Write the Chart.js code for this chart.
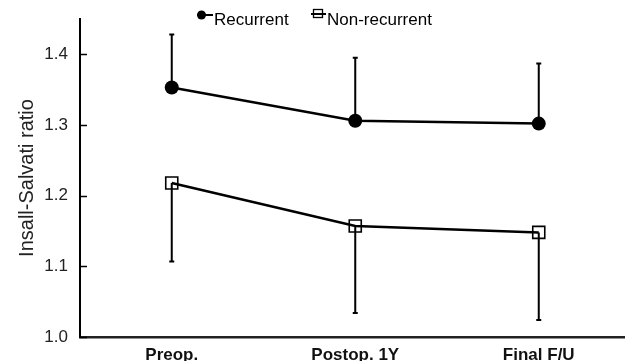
<!DOCTYPE html>
<html>
<head>
<meta charset="utf-8">
<script src="https://cdn.jsdelivr.net/npm/chart.js@4.4.0/dist/chart.umd.min.js"></script>
<style>
  html, body { margin: 0; padding: 0; background: #fff; }
  #wrap { width: 625px; height: 361px; }
</style>
</head>
<body>
<div id="wrap"><canvas id="myChart" width="625" height="361"></canvas></div>
<script>
  // values
  const labels = ['Preop.', 'Postop. 1Y', 'Final F/U'];
  const recurrent = [1.353, 1.306, 1.302];
  const recurrentUpper = [1.428, 1.395, 1.387];
  const nonRecurrent = [1.218, 1.157, 1.148];
  const nonRecurrentLower = [1.107, 1.034, 1.024];
  const yTicks = [1.0, 1.1, 1.2, 1.3, 1.4];

  const FONT = "'Liberation Sans', Arial, sans-serif";

  function toPoints(values) {
    const pts = [];
    for (let i = 0; i < values.length; i++) {
      pts.push({ x: i + 1, y: values[i] });
    }
    return pts;
  }

  // one sided error bars, drawn under the markers
  const errorBars = {
    id: 'errorBars',
    beforeDatasetsDraw(chart) {
      const ctx = chart.ctx;
      const x = chart.scales.x;
      const y = chart.scales.y;
      const sets = [[recurrent, recurrentUpper], [nonRecurrent, nonRecurrentLower]];
      ctx.save();
      ctx.strokeStyle = '#000';
      ctx.lineWidth = 2;
      sets.forEach(function(s) {
        for (let i = 0; i < s[0].length; i++) {
          const px = x.getPixelForValue(i + 1);
          const y0 = y.getPixelForValue(s[0][i]);
          const y1 = y.getPixelForValue(s[1][i]);
          ctx.beginPath();
          ctx.moveTo(px, y0);
          ctx.lineTo(px, y1);
          ctx.moveTo(px - 2.5, y1);
          ctx.lineTo(px + 2.5, y1);
          ctx.stroke();
        }
      });
      ctx.restore();
    },
    afterDraw(chart) {
      const ctx = chart.ctx;
      const y = chart.scales.y;
      const left = chart.chartArea.left;
      ctx.save();
      // inward tick marks
      ctx.strokeStyle = '#000';
      ctx.lineWidth = 1.5;
      yTicks.forEach(function(v) {
        const py = Math.round(y.getPixelForValue(v)) + 0.5;
        ctx.beginPath();
        ctx.moveTo(left, py);
        ctx.lineTo(left + 7, py);
        ctx.stroke();
      });
      // legend
      ctx.fillStyle = '#000';
      ctx.lineWidth = 2;
      ctx.beginPath();
      ctx.moveTo(197, 15);
      ctx.lineTo(213, 15);
      ctx.stroke();
      ctx.beginPath();
      ctx.arc(201.5, 15, 4.5, 0, Math.PI * 2);
      ctx.fill();
      ctx.beginPath();
      ctx.moveTo(311, 14);
      ctx.lineTo(326, 14);
      ctx.stroke();
      ctx.lineWidth = 1.3;
      ctx.strokeRect(313.5, 9.5, 9, 8);
      ctx.font = '17px ' + FONT;
      ctx.textBaseline = 'middle';
      ctx.textAlign = 'left';
      ctx.fillText('Recurrent', 214, 20);
      ctx.fillText('Non-recurrent', 327, 20);
      ctx.restore();
    }
  };

  const myChart = new Chart('myChart', {
    type: 'line',
    data: {
      datasets: [{
        label: 'Recurrent',
        data: toPoints(recurrent),
        borderColor: '#000',
        borderWidth: 2.5,
        backgroundColor: '#000',
        pointStyle: 'circle',
        pointRadius: 7,
        pointBorderWidth: 0
      }, {
        label: 'Non-recurrent',
        data: toPoints(nonRecurrent),
        borderColor: '#000',
        borderWidth: 2.5,
        backgroundColor: 'rgba(0,0,0,0)',
        pointStyle: 'rect',
        pointRadius: 8.5,
        pointBorderWidth: 1.6
      }]
    },
    options: {
      responsive: false,
      animation: false,
      maintainAspectRatio: false,
      layout: { autoPadding: false, padding: { top: 19, right: 0, bottom: 0, left: 0 } },
      plugins: {
        legend: { display: false },
        tooltip: { enabled: false }
      },
      scales: {
        x: {
          type: 'linear',
          min: 0.5,
          max: 3.47,
          afterBuildTicks: function(scale) {
            scale.ticks = [1, 2, 3].map(function(v) { return { value: v }; });
          },
          afterFit: function(scale) {
            scale.height = 24;
            scale.paddingLeft = 0;
            scale.paddingRight = 0;
          },
          grid: { display: false },
          border: { display: true, color: '#222', width: 2.5 },
          ticks: {
            autoSkip: false,
            maxRotation: 0,
            padding: 0,
            color: '#111',
            font: { family: FONT, size: 17, weight: 'bold' },
            callback: function(value) { return labels[value - 1]; }
          }
        },
        y: {
          min: 1.0,
          max: 1.45,
          afterBuildTicks: function(scale) {
            scale.ticks = yTicks.map(function(v) { return { value: v }; });
          },
          afterFit: function(scale) { scale.width = 80; },
          grid: { display: false },
          border: { display: true, color: '#000', width: 2 },
          title: {
            display: true,
            text: 'Insall-Salvati ratio',
            color: '#222',
            font: { family: FONT, size: 20 },
            padding: { top: 15, bottom: 0 }
          },
          ticks: {
            padding: 4,
            color: '#222',
            font: { family: FONT, size: 17 },
            callback: function(value) { return value.toFixed(1); }
          }
        }
      }
    },
    plugins: [errorBars]
  });
</script>
</body>
</html>
